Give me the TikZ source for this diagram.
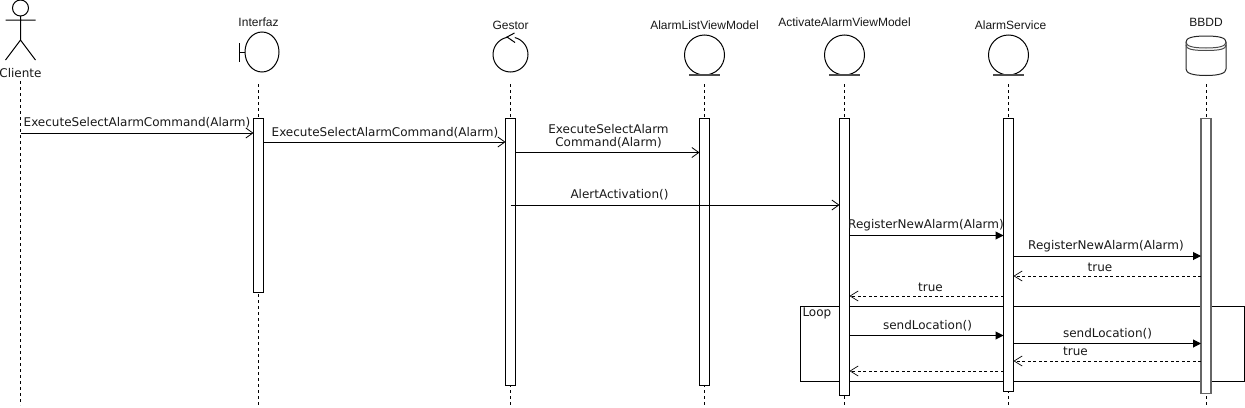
\documentclass[tikz,border=0pt]{standalone}
\usepackage{fontspec}
\setmainfont{DejaVu Sans}
\newfontfamily\headfont{Liberation Sans}
\usetikzlibrary{arrows.meta,shapes.geometric,calc}
\definecolor{ink}{gray}{0.1}
\tikzset{
  every node/.style={inner sep=0pt,outer sep=0pt,text=ink},
  act/.style={draw=black,fill=white,line width=1pt,minimum width=10pt},
  actgray/.style={draw=black!60,fill=white,line width=1.8pt,minimum width=10pt},
  lifeline/.style={draw=black,line width=0.8pt,dash pattern=on 3pt off 3pt},
  msgopen/.style={draw=black,line width=1pt,-{Straight Barb[length=7pt,width=10pt,line width=0.8pt]}},
  msgfill/.style={draw=black,line width=1pt,-{Triangle[length=8pt,width=8pt]}},
  msgback/.style={draw=black,line width=0.8pt,dash pattern=on 3pt off 2.5pt,-{Straight Barb[length=8pt,width=10pt,line width=0.7pt,sep=0pt]}},
  lbl/.style={font=\fontsize{12}{12}\selectfont,align=center},
  hdr/.style={font=\headfont\fontsize{12}{12}\selectfont},
  entity/.style={circle,draw=black,line width=1pt,minimum size=40pt},
}
\begin{document}
\begin{tikzpicture}[x=1pt,y=-1pt]
\useasboundingbox (0,0) rectangle (1245,407);
\fill[white] (0,0) rectangle (1245,407);
% loop frame
\node[draw=black,line width=1pt,minimum width=444pt,minimum height=75pt,fill=white] (loop) at (1022.5,343.5) {};
\node[lbl,anchor=west] (looplabel) at (802.5,313.5) {Loop};
% heads
\node[circle,draw=black,line width=1pt,minimum size=16pt] (cliHead) at (20.5,8) {};
\coordinate (cliHip) at (20.5,40);
\coordinate (cliArmL) at (5.5,20);
\coordinate (cliArmR) at (35.5,20);
\coordinate (cliLegL) at (5.5,60);
\coordinate (cliLegR) at (35.5,60);
\draw[line width=1pt] (cliHead.south) -- (cliHip) -- (cliLegL) (cliHip) -- (cliLegR) (cliArmL) -- (cliArmR);
\node[lbl] (cliente) at (20.5,73.5) {Cliente};

\node[ellipse,draw=black,line width=1pt,minimum width=34pt,minimum height=40pt] (interfaz) at (262,52) {};
\coordinate (bndTop) at (239,43);
\coordinate (bndBot) at (239,62);
\coordinate (bndMid) at (239,52);
\draw[line width=1pt] (bndTop) -- (bndBot) (bndMid) -- (interfaz.west);
\node[hdr] (tInterfaz) at (258.5,22.5) {Interfaz};

\node[circle,draw=black,line width=1pt,minimum size=35pt] (gestor) at (510.5,54.5) {};
\coordinate (ctlA) at (514.5,33);
\coordinate (ctlB) at (507,37);
\coordinate (ctlC) at (515,42.5);
\draw[line width=1pt,fill=white] (ctlA) -- (ctlB) -- (ctlC);
\node[hdr] (tGestor) at (510.5,25.5) {Gestor};

\node[entity] (alv) at (704.5,55) {};
\coordinate (alvL) at (689,75);
\coordinate (alvR) at (720,75);
\draw[line width=1.4pt,black!70] (alvL) -- (alvR);
\node[hdr] (tAlv) at (704.5,25.5) {AlarmListViewModel};

\node[entity] (aav) at (844.5,55) {};
\coordinate (aavL) at (829,75);
\coordinate (aavR) at (860,75);
\draw[line width=1.4pt,black!70] (aavL) -- (aavR);
\node[hdr] (tAav) at (844.5,22.5) {ActivateAlarmViewModel};

\node[entity] (svc) at (1008.5,55) {};
\coordinate (svcL) at (993,75);
\coordinate (svcR) at (1024,75);
\draw[line width=1.4pt,black!70] (svcL) -- (svcR);
\node[hdr] (tSvc) at (1010.5,25.5) {AlarmService};

% database
\draw[line width=1pt,draw=black!85,fill=white] (1186,42) .. controls (1186,38) and (1192,36) .. (1206,36) .. controls (1220,36) and (1226,38) .. (1226,42) -- (1226,69) .. controls (1226,73) and (1220,75.5) .. (1206,75.5) .. controls (1192,75.5) and (1186,73) .. (1186,69) -- cycle;
\draw[line width=1pt,draw=black!70] (1186,42) .. controls (1186,46) and (1192,48) .. (1206,48) .. controls (1220,48) and (1226,46) .. (1226,42);
\draw[line width=1pt,draw=black!70] (1186,45) .. controls (1186,49) and (1192,50.5) .. (1206,50.5) .. controls (1220,50.5) and (1226,49) .. (1226,45);
\node[minimum width=40pt,minimum height=39pt] (bbdd) at (1206,55.5) {};
\node[hdr] (tBbdd) at (1206,22.5) {BBDD};

% foot of lifelines
\coordinate (fCli) at (20.5,405);
\coordinate (fInt) at (258.5,405);
\coordinate (fGes) at (510.5,405);
\coordinate (fAlv) at (704.5,405);
\coordinate (fAav) at (844.5,405);
\coordinate (fSvc) at (1008.5,405);
\coordinate (fBbd) at (1206,405);
\coordinate (sInt) at (258.5,84);
\coordinate (sGes) at (510.5,84);
\coordinate (sAlv) at (704.5,84);
\coordinate (sAav) at (844.5,84);
\coordinate (sSvc) at (1008.5,84);
\coordinate (sBbd) at (1206,84);
\coordinate (sCli) at (20.5,81);
\draw[lifeline] (sCli) -- (fCli);
\draw[lifeline] (sInt) -- (fInt);
\draw[lifeline] (sGes) -- (fGes);
\draw[lifeline] (sAlv) -- (fAlv);
\draw[lifeline] (sAav) -- (fAav);
\draw[lifeline] (sSvc) -- (fSvc);
\draw[lifeline] (sBbd) -- (fBbd);

% activations
\node[act,minimum height=174pt] (aInt) at (258.5,205) {};
\node[act,minimum height=267pt] (aGes) at (510.5,251.5) {};
\node[act,minimum height=267pt] (aAlv) at (704.5,251.5) {};
\node[act,minimum height=277pt] (aAav) at (844.5,256.5) {};
\node[act,minimum height=273pt] (aSvc) at (1008.5,254.5) {};
\node[actgray,minimum height=275pt] (aBbd) at (1206,256) {};

% messages
\draw[msgopen] (sCli |- 0,133) -- (aInt.west |- 0,133);
\draw[msgopen] (aInt.east |- 0,142) -- (aGes.west |- 0,142);
\draw[msgopen] (aGes.east |- 0,152.5) -- (aAlv.west |- 0,152.5);
\draw[msgopen] (aGes.center |- 0,205) -- (aAav.west |- 0,205);
\draw[msgfill] (aAav.east |- 0,235.5) -- (aSvc.west |- 0,235.5);
\draw[msgfill] (aSvc.east |- 0,256) -- (aBbd.west |- 0,256);
\draw[msgback] (aBbd.west |- 0,276) -- (aSvc.east |- 0,276);
\draw[msgback] (aSvc.west |- 0,296) -- (aAav.east |- 0,296);
\draw[msgfill] (aAav.east |- 0,335.5) -- (aSvc.west |- 0,335.5);
\draw[msgfill] (aSvc.east |- 0,343.5) -- (aBbd.west |- 0,343.5);
\draw[msgback] (aBbd.west |- 0,361) -- (aSvc.east |- 0,361);
\draw[msgback] (aSvc.west |- 0,371) -- (aAav.east |- 0,371);

% labels
\node[lbl] (m1) at (137,122.5) {ExecuteSelectAlarmCommand(Alarm)};
\node[lbl] (m2) at (385,132.5) {ExecuteSelectAlarmCommand(Alarm)};
\node[lbl] (m3a) at (608.5,129) {ExecuteSelectAlarm};
\node[lbl] (m3b) at (608.5,143) {Command(Alarm)};
\node[lbl] (m4) at (619.5,195) {AlertActivation()};
\node[lbl] (m5) at (926,225.5) {RegisterNewAlarm(Alarm)};
\node[lbl] (m6) at (1106,246.5) {RegisterNewAlarm(Alarm)};
\node[lbl] (m7) at (1100,267) {true};
\node[lbl] (m8) at (930.5,287) {true};
\node[lbl] (m9) at (927.5,325.5) {sendLocation()};
\node[lbl] (m10) at (1107.5,333.5) {sendLocation()};
\node[lbl] (m11) at (1075.5,351) {true};
\end{tikzpicture}
\end{document}
